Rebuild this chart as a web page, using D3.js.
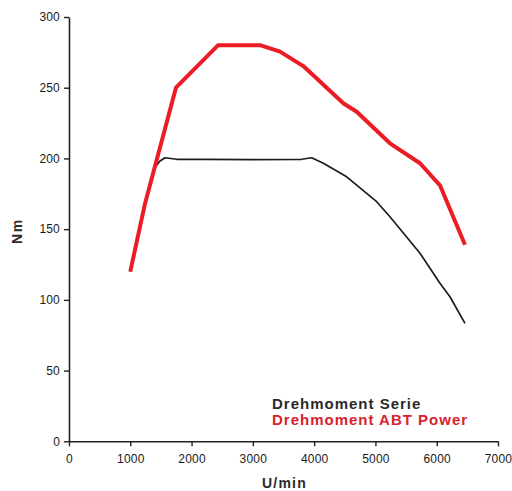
<!DOCTYPE html>
<html>
<head>
<meta charset="utf-8">
<script src="https://cdn.jsdelivr.net/npm/d3@7"></script>
<style>
  body { margin: 0; background: #fff; }
  svg { display: block; font-family: Arial, "Liberation Sans", sans-serif; }
</style>
</head>
<body>
<svg id="chart"></svg>
<script>
// rpm / torque
const serieRpm = [1000, 1240, 1400, 1480, 1566, 1757, 2191, 3000, 3796, 3960, 4150, 4531, 5020, 5237, 5727, 6053, 6216, 6461];
const serieNm = [120, 168, 193.5, 198, 200.5, 199.4, 199.4, 199.2, 199.4, 200.5, 196.6, 187, 169.4, 158.8, 133, 111.7, 102.2, 83.4];

const abtRpm = [1000, 1240, 1745, 2430, 3130, 3443, 3823, 4476, 4694, 5237, 5727, 6053, 6461];
const abtNm = [120, 168, 250, 280, 280, 275.5, 265.3, 239, 233, 210.7, 196.6, 181, 139];

const xTicks = [0, 1000, 2000, 3000, 4000, 5000, 6000, 7000];
const yTicks = [0, 50, 100, 150, 200, 250, 300];
const legendLabels = ["Drehmoment Serie", "Drehmoment ABT Power"];

const width = 512;
const height = 491;

const svg = d3.select("#chart").attr("width", width).attr("height", height);

const x = d3.scaleLinear().domain([0, 7000]).range([69, 498]);
const y = d3.scaleLinear().domain([0, 300]).range([441.3, 17]);

// axes
const xAxis = svg.append("g")
  .attr("transform", `translate(0,${y(0)})`)
  .call(d3.axisBottom(x).tickValues(xTicks).tickSize(5).tickPadding(8).tickSizeOuter(0).tickFormat(d3.format("d")));

const yAxis = svg.append("g")
  .attr("transform", `translate(${x(0)},0)`)
  .call(d3.axisLeft(y).tickValues(yTicks).tickSize(5).tickPadding(4).tickSizeOuter(0));

[xAxis, yAxis].forEach((g) => {
  g.select(".domain").attr("stroke", "#222").attr("stroke-width", 1.6);
  g.selectAll(".tick line").attr("stroke", "#222").attr("stroke-width", 1.4);
  g.selectAll(".tick text")
    .attr("fill", "#1a1a1a")
    .attr("font-size", "12px")
    .attr("font-family", "Arial, 'Liberation Sans', sans-serif")
    .attr("letter-spacing", "0.2px");
});

// axis titles
svg.append("text")
  .attr("x", x(3500) + 1)
  .attr("y", 488)
  .attr("text-anchor", "middle")
  .attr("font-size", "14px")
  .attr("font-weight", "bold")
  .attr("letter-spacing", "1.2px")
  .attr("fill", "#2a2a2a")
  .text("U/min");

svg.append("text")
  .attr("transform", `translate(22,${y(150) + 2}) rotate(-90)`)
  .attr("text-anchor", "middle")
  .attr("font-size", "14px")
  .attr("font-weight", "bold")
  .attr("letter-spacing", "1.5px")
  .attr("fill", "#2a2a2a")
  .text("Nm");

const line = d3.line()
  .x((d) => x(d[0]))
  .y((d) => y(d[1]));

const seriePoints = serieRpm.map((r, i) => [r, serieNm[i]]);
const abtPoints = abtRpm.map((r, i) => [r, abtNm[i]]);

svg.append("path")
  .attr("d", line(seriePoints))
  .attr("fill", "none")
  .attr("stroke", "#1c1c1c")
  .attr("stroke-width", 1.7)
  .attr("stroke-linejoin", "round");

svg.append("path")
  .attr("d", line(abtPoints))
  .attr("fill", "none")
  .attr("stroke", "#ec1c24")
  .attr("stroke-width", 4)
  .attr("stroke-linejoin", "round")
  .attr("stroke-linecap", "butt");

// legend
const legendColors = ["#2a2a2a", "#d9212d"];
legendLabels.forEach((label, i) => {
  svg.append("text")
    .attr("x", 272)
    .attr("y", 409 + i * 16)
    .attr("font-size", "15px")
    .attr("font-weight", "bold")
    .attr("fill", legendColors[i])
    .attr("letter-spacing", "1px")
    .text(label);
});
</script>
</body>
</html>
